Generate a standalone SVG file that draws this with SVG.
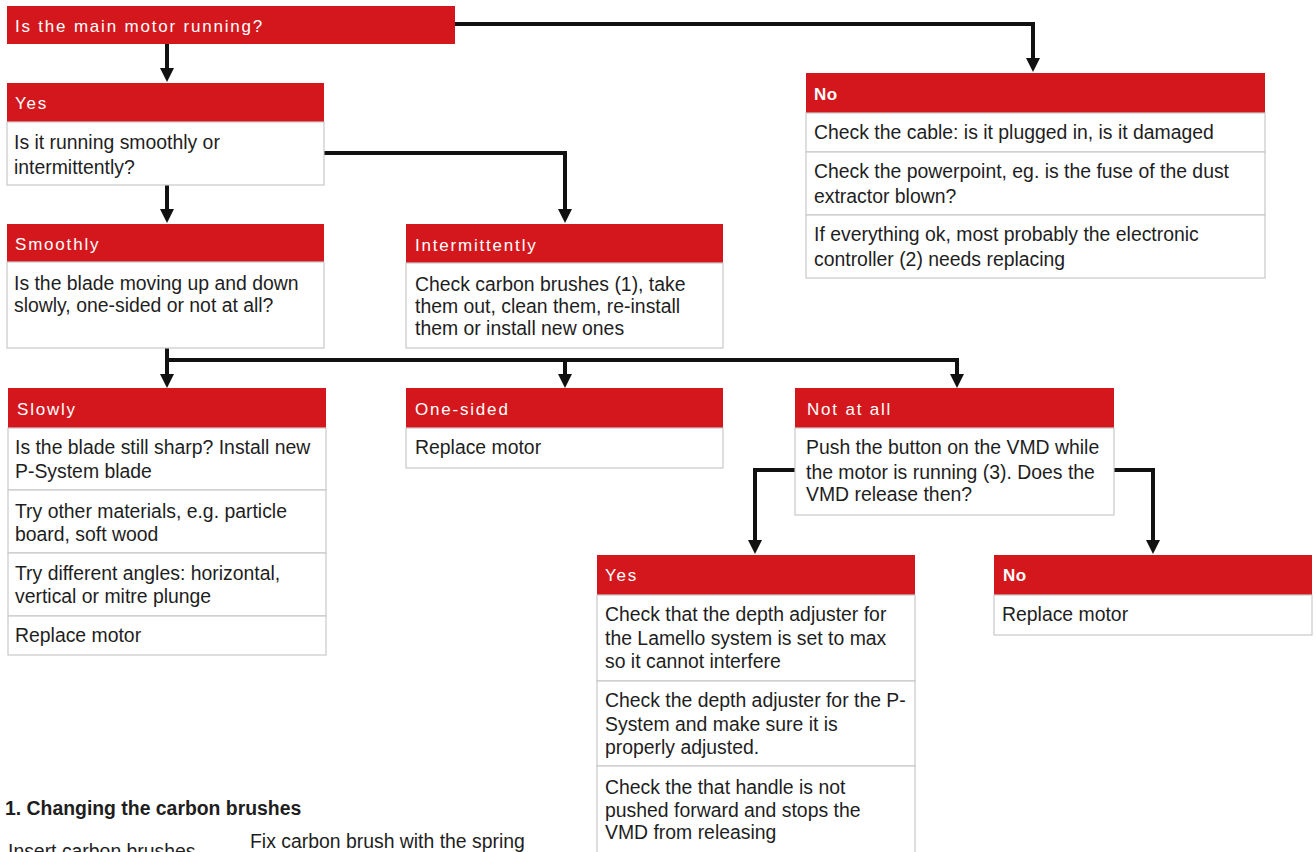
<svg xmlns="http://www.w3.org/2000/svg" width="1316" height="852" viewBox="0 0 1316 852">
<defs>
<style>
.hd{fill:#d4171d}
.row{fill:#fff;stroke:#c9c9c9;stroke-width:1.2}
.ht{font-family:"Liberation Sans",Arial,sans-serif;font-size:17px;fill:#fff;letter-spacing:1.8px}
.hb{font-weight:bold;letter-spacing:0.5px}
.bt{font-family:"Liberation Sans",Arial,sans-serif;font-size:19.4px;fill:#1e1e1e}
.cn{fill:none;stroke:#111;stroke-width:4}
</style>
<marker id="ah" viewBox="0 0 14 14" refX="6" refY="7" markerWidth="14" markerHeight="14" markerUnits="userSpaceOnUse" orient="auto">
<path d="M0,0 L14,7 L0,14 z" fill="#111"/>
</marker>
</defs>
<rect width="1316" height="852" fill="#fff"/>

<g id="connectors">
<path class="cn" d="M167,44 V74" marker-end="url(#ah)"/>
<path class="cn" d="M455,24 H1033 V64" marker-end="url(#ah)"/>
<path class="cn" d="M324,153 H565 V215" marker-end="url(#ah)"/>
<path class="cn" d="M167,185 V215" marker-end="url(#ah)"/>
<path class="cn" d="M167,348 V380" marker-end="url(#ah)"/>
<path class="cn" d="M167,360 H957 V380" marker-end="url(#ah)"/>
<path class="cn" d="M565,360 V380" marker-end="url(#ah)"/>
<path class="cn" d="M795,470 H755 V546" marker-end="url(#ah)"/>
<path class="cn" d="M1114,470 H1153 V546" marker-end="url(#ah)"/>
</g>

<g id="q-main">
<rect class="hd" x="7" y="6" width="448" height="38"/>
<text class="ht" x="15" y="32">Is the main motor running?</text>
</g>

<g id="yes-1">
<rect class="hd" x="7" y="83" width="317" height="39"/>
<text class="ht" x="15" y="109">Yes</text>
<rect class="row" x="7" y="122" width="317" height="63"/>
<text class="bt" x="14" y="149">Is it running smoothly or</text>
<text class="bt" x="14" y="174">intermittently?</text>
</g>

<g id="no-1">
<rect class="hd" x="806" y="73" width="459" height="40"/>
<text class="ht hb" x="814" y="100">No</text>
<rect class="row" x="806" y="113" width="459" height="39"/>
<text class="bt" x="814" y="139">Check the cable: is it plugged in, is it damaged</text>
<rect class="row" x="806" y="152" width="459" height="63"/>
<text class="bt" x="814" y="178">Check the powerpoint, eg. is the fuse of the dust</text>
<text class="bt" x="814" y="203">extractor blown?</text>
<rect class="row" x="806" y="215" width="459" height="63"/>
<text class="bt" x="814" y="241">If everything ok, most probably the electronic</text>
<text class="bt" x="814" y="266">controller (2) needs replacing</text>
</g>

<g id="smoothly">
<rect class="hd" x="7" y="224" width="317" height="38"/>
<text class="ht" x="15" y="250">Smoothly</text>
<rect class="row" x="7" y="262" width="317" height="86"/>
<text class="bt" x="14" y="290">Is the blade moving up and down</text>
<text class="bt" x="14" y="312">slowly, one-sided or not at all?</text>
</g>

<g id="intermittently">
<rect class="hd" x="406" y="224" width="317" height="39"/>
<text class="ht" x="415" y="251">Intermittently</text>
<rect class="row" x="406" y="263" width="317" height="85"/>
<text class="bt" x="415" y="291">Check carbon brushes (1), take</text>
<text class="bt" x="415" y="313">them out, clean them, re-install</text>
<text class="bt" x="415" y="335">them or install new ones</text>
</g>

<g id="slowly">
<rect class="hd" x="8" y="388" width="318" height="40"/>
<text class="ht" x="17" y="415">Slowly</text>
<rect class="row" x="8" y="428" width="318" height="62"/>
<text class="bt" x="15" y="454">Is the blade still sharp? Install new</text>
<text class="bt" x="15" y="478">P-System blade</text>
<rect class="row" x="8" y="490" width="318" height="63"/>
<text class="bt" x="15" y="518">Try other materials, e.g. particle</text>
<text class="bt" x="15" y="541">board, soft wood</text>
<rect class="row" x="8" y="553" width="318" height="63"/>
<text class="bt" x="15" y="580">Try different angles: horizontal,</text>
<text class="bt" x="15" y="603">vertical or mitre plunge</text>
<rect class="row" x="8" y="616" width="318" height="39"/>
<text class="bt" x="15" y="642">Replace motor</text>
</g>

<g id="one-sided">
<rect class="hd" x="406" y="388" width="317" height="40"/>
<text class="ht" x="415" y="415">One-sided</text>
<rect class="row" x="406" y="428" width="317" height="40"/>
<text class="bt" x="415" y="454">Replace motor</text>
</g>

<g id="not-at-all">
<rect class="hd" x="795" y="388" width="319" height="40"/>
<text class="ht" x="807" y="415">Not at all</text>
<rect class="row" x="795" y="428" width="319" height="87"/>
<text class="bt" x="806" y="454">Push the button on the VMD while</text>
<text class="bt" x="806" y="479">the motor is running (3). Does the</text>
<text class="bt" x="806" y="501">VMD release then?</text>
</g>

<g id="yes-2">
<rect class="hd" x="597" y="555" width="318" height="40"/>
<text class="ht" x="605" y="581">Yes</text>
<rect class="row" x="597" y="595" width="318" height="86"/>
<text class="bt" x="605" y="621">Check that the depth adjuster for</text>
<text class="bt" x="605" y="645">the Lamello system is set to max</text>
<text class="bt" x="605" y="668">so it cannot interfere</text>
<rect class="row" x="597" y="681" width="318" height="85"/>
<text class="bt" x="605" y="707">Check the depth adjuster for the P-</text>
<text class="bt" x="605" y="731">System and make sure it is</text>
<text class="bt" x="605" y="754">properly adjusted.</text>
<rect class="row" x="597" y="766" width="318" height="90"/>
<text class="bt" x="605" y="794">Check the that handle is not</text>
<text class="bt" x="605" y="817">pushed forward and stops the</text>
<text class="bt" x="605" y="839">VMD from releasing</text>
</g>

<g id="no-2">
<rect class="hd" x="994" y="555" width="318" height="40"/>
<text class="ht hb" x="1003" y="581">No</text>
<rect class="row" x="994" y="595" width="318" height="40"/>
<text class="bt" x="1002" y="621">Replace motor</text>
</g>

<g id="carbon-brushes">
<text class="bt" x="5" y="815" font-weight="bold" font-size="17.8">1. Changing the carbon brushes</text>
<text class="bt" x="250" y="848">Fix carbon brush with the spring</text>
<text class="bt" x="8" y="858">Insert carbon brushes</text>
</g>
</svg>
